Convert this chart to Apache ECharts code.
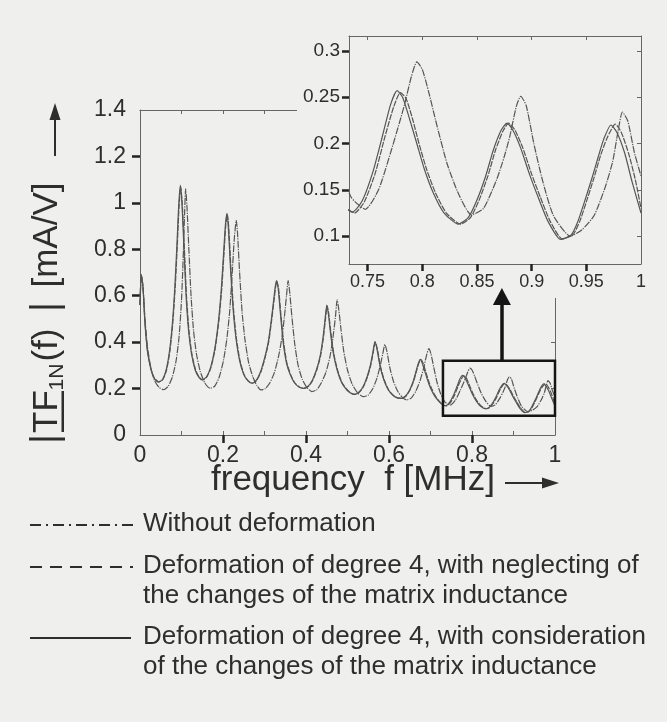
<!DOCTYPE html>
<html>
<head>
<meta charset="utf-8">
<script src="https://cdn.jsdelivr.net/npm/echarts@6/dist/echarts.min.js"></script>
<style>
html, body { margin: 0; padding: 0; background: #efefed; }
#chart { width: 667px; height: 722px; }
</style>
</head>
<body>
<div id="chart"></div>
<script>
// tick labels
var mainXTicks = [0, 0.2, 0.4, 0.6, 0.8, 1];
var mainYTicks = [0, 0.2, 0.4, 0.6, 0.8, 1, 1.2, 1.4];
var insetXTicks = [0.75, 0.8, 0.85, 0.9, 0.95, 1];
var insetYTicks = [0.1, 0.15, 0.2, 0.25, 0.3];

var legendNames = [
    'Without deformation',
    'Deformation of degree 4, with neglecting of\nthe changes of the matrix inductance',
    'Deformation of degree 4, with consideration\nof the changes of the matrix inductance'
];

// |TF_1N(f)| in mA/V versus f in MHz
var withoutDeformation = [
    [0.000,0.56],[0.003,0.69],[0.007,0.645],[0.012,0.50],[0.018,0.38],[0.026,0.29],[0.035,0.235],[0.046,0.205],
    [0.057,0.195],[0.068,0.21],[0.078,0.25],[0.087,0.32],[0.094,0.42],[0.100,0.58],[0.104,0.76],[0.107,0.93],
    [0.110,1.06],[0.113,0.99],[0.118,0.79],[0.123,0.60],[0.129,0.45],[0.136,0.35],[0.145,0.275],[0.156,0.225],
    [0.169,0.201],[0.180,0.21],[0.191,0.25],[0.201,0.32],[0.209,0.41],[0.216,0.53],[0.222,0.69],[0.227,0.84],
    [0.232,0.925],[0.235,0.87],[0.240,0.70],[0.246,0.53],[0.253,0.41],[0.262,0.31],[0.272,0.25],[0.281,0.215],
    [0.291,0.194],[0.302,0.20],[0.313,0.225],[0.324,0.27],[0.334,0.34],[0.342,0.42],[0.348,0.51],[0.353,0.60],
    [0.357,0.665],[0.361,0.61],[0.366,0.51],[0.373,0.39],[0.381,0.30],[0.391,0.24],[0.402,0.205],[0.414,0.187],
    [0.426,0.195],[0.437,0.225],[0.448,0.27],[0.458,0.34],[0.465,0.42],[0.471,0.51],[0.475,0.582],[0.479,0.54],
    [0.484,0.46],[0.491,0.36],[0.500,0.28],[0.511,0.22],[0.524,0.182],[0.538,0.165],[0.550,0.172],[0.561,0.20],
    [0.571,0.245],[0.579,0.30],[0.585,0.35],[0.590,0.39],[0.595,0.36],[0.602,0.29],[0.611,0.23],[0.622,0.185],
    [0.633,0.16],[0.643,0.151],[0.654,0.16],[0.665,0.19],[0.675,0.235],[0.683,0.285],[0.690,0.34],[0.696,0.372],
    [0.701,0.35],[0.708,0.29],[0.716,0.225],[0.725,0.175],[0.735,0.142],[0.748,0.129],[0.760,0.150],[0.771,0.190],
    [0.779,0.222],[0.784,0.243],[0.790,0.272],[0.795,0.288],[0.800,0.280],[0.806,0.255],[0.812,0.226],[0.8225,0.179],
    [0.833,0.146],[0.845,0.123],[0.856,0.130],[0.868,0.161],[0.875,0.186],[0.880,0.2075],[0.886,0.240],[0.890,0.251],
    [0.895,0.241],[0.902,0.200],[0.910,0.160],[0.920,0.122],[0.9355,0.100],[0.946,0.107],[0.957,0.122],[0.967,0.152],
    [0.974,0.180],[0.979,0.213],[0.983,0.234],[0.988,0.224],[0.994,0.190],[1.000,0.165]
];

var neglectingInductance = [
    [0.000,0.56],[0.003,0.69],[0.007,0.645],[0.012,0.485],[0.018,0.365],[0.026,0.288],[0.034,0.247],[0.045,0.229],
    [0.055,0.239],[0.064,0.28],[0.072,0.36],[0.079,0.48],[0.085,0.64],[0.090,0.82],[0.094,0.98],[0.098,1.07],
    [0.102,0.99],[0.107,0.80],[0.112,0.60],[0.118,0.45],[0.125,0.35],[0.134,0.28],[0.143,0.248],[0.151,0.237],
    [0.161,0.25],[0.171,0.29],[0.181,0.37],[0.190,0.49],[0.197,0.63],[0.203,0.80],[0.207,0.91],[0.2105,0.95],
    [0.214,0.89],[0.219,0.72],[0.225,0.55],[0.232,0.42],[0.241,0.32],[0.251,0.26],[0.261,0.233],[0.271,0.223],
    [0.281,0.235],[0.291,0.27],[0.301,0.33],[0.310,0.40],[0.317,0.49],[0.323,0.58],[0.327,0.64],[0.330,0.662],
    [0.334,0.63],[0.339,0.53],[0.346,0.40],[0.354,0.31],[0.363,0.26],[0.373,0.225],[0.384,0.207],[0.395,0.201],
    [0.406,0.21],[0.416,0.235],[0.426,0.28],[0.435,0.34],[0.442,0.42],[0.447,0.50],[0.451,0.556],[0.455,0.52],
    [0.460,0.44],[0.467,0.35],[0.476,0.28],[0.487,0.225],[0.499,0.195],[0.509,0.18],[0.519,0.175],[0.529,0.185],
    [0.539,0.21],[0.548,0.25],[0.556,0.30],[0.562,0.355],[0.567,0.400],[0.572,0.37],[0.579,0.30],[0.588,0.24],
    [0.599,0.195],[0.611,0.17],[0.621,0.16],[0.631,0.158],[0.641,0.168],[0.651,0.195],[0.660,0.235],[0.667,0.28],
    [0.672,0.31],[0.677,0.325],[0.682,0.31],[0.689,0.27],[0.698,0.22],[0.708,0.18],[0.718,0.152],[0.728,0.133],
    [0.738,0.125],[0.747,0.137],[0.757,0.168],[0.766,0.208],[0.774,0.240],[0.780,0.255],[0.785,0.249],[0.791,0.227],
    [0.797,0.200],[0.804,0.172],[0.812,0.147],[0.822,0.125],[0.835,0.113],[0.844,0.120],[0.852,0.139],[0.860,0.165],
    [0.867,0.193],[0.874,0.214],[0.879,0.222],[0.885,0.214],[0.892,0.195],[0.900,0.167],[0.908,0.142],[0.917,0.116],
    [0.928,0.097],[0.938,0.102],[0.944,0.116],[0.950,0.137],[0.957,0.163],[0.963,0.187],[0.969,0.206],[0.9765,0.221],
    [0.982,0.212],[0.989,0.188],[0.995,0.160],[1.000,0.130]
];

var consideringInductance = [
    [0.000,0.56],[0.003,0.69],[0.007,0.64],[0.012,0.48],[0.018,0.36],[0.026,0.285],[0.034,0.245],[0.044,0.228],
    [0.054,0.238],[0.063,0.28],[0.071,0.36],[0.078,0.48],[0.084,0.64],[0.089,0.82],[0.093,0.98],[0.097,1.075],
    [0.101,1.00],[0.106,0.80],[0.111,0.60],[0.117,0.45],[0.124,0.35],[0.133,0.28],[0.142,0.248],[0.150,0.237],
    [0.160,0.25],[0.170,0.29],[0.180,0.37],[0.189,0.49],[0.196,0.63],[0.202,0.80],[0.206,0.91],[0.2095,0.955],
    [0.213,0.89],[0.218,0.72],[0.224,0.55],[0.231,0.42],[0.240,0.32],[0.250,0.26],[0.260,0.233],[0.270,0.223],
    [0.280,0.235],[0.290,0.27],[0.300,0.33],[0.309,0.40],[0.316,0.49],[0.322,0.58],[0.326,0.64],[0.329,0.665],
    [0.333,0.63],[0.338,0.53],[0.345,0.40],[0.353,0.31],[0.362,0.26],[0.372,0.225],[0.383,0.207],[0.394,0.201],
    [0.405,0.21],[0.415,0.235],[0.425,0.28],[0.434,0.34],[0.441,0.42],[0.446,0.50],[0.450,0.56],[0.454,0.52],
    [0.459,0.44],[0.466,0.35],[0.475,0.28],[0.486,0.225],[0.498,0.195],[0.508,0.18],[0.518,0.175],[0.528,0.185],
    [0.538,0.21],[0.547,0.25],[0.555,0.30],[0.561,0.355],[0.566,0.402],[0.571,0.37],[0.578,0.30],[0.587,0.24],
    [0.598,0.195],[0.610,0.17],[0.620,0.16],[0.630,0.158],[0.640,0.168],[0.650,0.195],[0.659,0.235],[0.666,0.28],
    [0.671,0.31],[0.675,0.326],[0.680,0.31],[0.687,0.27],[0.696,0.22],[0.706,0.18],[0.716,0.153],[0.726,0.135],
    [0.736,0.126],[0.745,0.138],[0.755,0.170],[0.764,0.210],[0.771,0.242],[0.777,0.257],[0.782,0.250],[0.788,0.228],
    [0.795,0.200],[0.802,0.172],[0.810,0.147],[0.820,0.125],[0.833,0.113],[0.842,0.120],[0.850,0.139],[0.858,0.165],
    [0.865,0.193],[0.872,0.214],[0.8775,0.222],[0.883,0.214],[0.890,0.195],[0.898,0.167],[0.906,0.142],[0.915,0.116],
    [0.9265,0.0965],[0.936,0.101],[0.942,0.115],[0.948,0.136],[0.955,0.162],[0.961,0.186],[0.966,0.205],[0.9725,0.220],
    [0.978,0.212],[0.985,0.190],[0.992,0.158],[1.000,0.125]
];

var FONT = "'Liberation Sans', Arial, Helvetica, sans-serif";
var INK = '#2e2e2e';
var CURVE = '#555555';
var BG = '#efefed';

var chart = echarts.init(document.getElementById('chart'));

function curveSeries(name, data, dash, xi, yi, z) {
    return {
        name: name,
        type: 'line',
        xAxisIndex: xi,
        yAxisIndex: yi,
        data: data,
        smooth: 0.2,
        showSymbol: false,
        symbol: 'none',
        silent: true,
        z: z,
        lineStyle: { color: CURVE, width: 1.2, type: dash }
    };
}

function plainAxis(extra) {
    var base = {
        type: 'value',
        axisLine: { show: true, onZero: false, lineStyle: { color: '#666', width: 1 } },
        axisTick: { show: false },
        axisLabel: { show: false },
        splitLine: { show: false }
    };
    return Object.assign(base, extra);
}

var labelStyleMain = { color: INK, fontFamily: FONT, fontSize: 23 };
var labelStyleInset = { color: INK, fontFamily: FONT, fontSize: 18 };

var option = {
    backgroundColor: BG,
    animation: false,
    grid: [
        { left: 140, top: 110, width: 415, height: 325 },   // main
        { left: 140, top: 110, width: 415, height: 325 },   // main, inner ticks
        { left: 349, top: 36, width: 292, height: 228, z: 6 } // inset
    ],
    xAxis: [
        plainAxis({ gridIndex: 0, position: 'bottom', min: 0, max: 1, interval: 0.2,
            axisTick: { show: true, customValues: [0.2, 0.4, 0.6, 0.8], length: 8, inside: false,
                lineStyle: { color: '#222', width: 2.5 } },
            axisLabel: Object.assign({ show: true, margin: 9, customValues: mainXTicks }, labelStyleMain) }),
        plainAxis({ gridIndex: 0, position: 'top', min: 0, max: 1, interval: 0.1,
            axisTick: { show: true, inside: true, length: 4, lineStyle: { color: '#666', width: 1 } } }),
        plainAxis({ gridIndex: 1, position: 'bottom', min: 0, max: 1, interval: 0.1,
            axisLine: { show: false },
            axisTick: { show: true, inside: true, length: 4, lineStyle: { color: '#666', width: 1 } } }),
        plainAxis({ gridIndex: 2, position: 'bottom', min: 0.733, max: 1, z: 6,
            axisTick: { show: true, customValues: [0.75, 0.8, 0.85, 0.9, 0.95], length: 7, inside: false,
                lineStyle: { color: '#222', width: 2.5 } },
            axisLabel: Object.assign({ show: true, margin: 9, customValues: insetXTicks }, labelStyleInset) }),
        plainAxis({ gridIndex: 2, position: 'top', min: 0.733, max: 1, z: 6,
            axisTick: { show: true, customValues: [0.75, 0.8, 0.85, 0.9, 0.95], inside: true, length: 4,
                lineStyle: { color: '#666', width: 1 } } })
    ],
    yAxis: [
        plainAxis({ gridIndex: 0, position: 'left', min: 0, max: 1.4, interval: 0.2,
            axisTick: { show: true, customValues: [0.2, 0.4, 0.6, 0.8, 1, 1.2], length: 8, inside: false,
                lineStyle: { color: '#222', width: 2.5 } },
            axisLabel: Object.assign({ show: true, margin: 14, customValues: mainYTicks }, labelStyleMain) }),
        plainAxis({ gridIndex: 0, position: 'right', min: 0, max: 1.4, interval: 0.2,
            axisTick: { show: true, inside: true, length: 4, lineStyle: { color: '#666', width: 1 } } }),
        plainAxis({ gridIndex: 1, show: false, min: 0, max: 1.4 }),
        plainAxis({ gridIndex: 2, position: 'left', min: 0.07, max: 0.316, z: 6,
            axisTick: { show: true, customValues: insetYTicks, length: 7, inside: false,
                lineStyle: { color: '#222', width: 2.5 } },
            axisLabel: Object.assign({ show: true, margin: 9, customValues: insetYTicks }, { color: INK, fontFamily: FONT, fontSize: 19 }) }),
        plainAxis({ gridIndex: 2, position: 'right', min: 0.07, max: 0.316, z: 6,
            axisTick: { show: true, customValues: insetYTicks, inside: true, length: 4,
                lineStyle: { color: '#666', width: 1 } } })
    ],
    series: [
        curveSeries(legendNames[0], withoutDeformation, [7, 1.2, 1.2, 1.2], 0, 0, 2),
        curveSeries(legendNames[1], neglectingInductance, [6, 1.2], 0, 0, 2),
        curveSeries(legendNames[2], consideringInductance, 'solid', 0, 0, 2),
        curveSeries(legendNames[0], withoutDeformation, [7, 1.2, 1.2, 1.2], 3, 3, 7),
        curveSeries(legendNames[1], neglectingInductance, [6, 1.2], 3, 3, 7),
        curveSeries(legendNames[2], consideringInductance, 'solid', 3, 3, 7),
        {
            // zoom frame and the arrow pointing at the inset
            type: 'line',
            xAxisIndex: 0,
            yAxisIndex: 0,
            data: [[0.872, 0.32]],
            symbol: 'none',
            silent: true,
            z: 10,
            lineStyle: { opacity: 0 },
            markArea: {
                silent: true,
                z: 10,
                itemStyle: { color: 'rgba(0,0,0,0)', borderColor: '#151515', borderWidth: 2.5 },
                label: { show: false },
                data: [[{ xAxis: 0.73, yAxis: 0.32 }, { xAxis: 1, yAxis: 0.083 }]]
            },
            markLine: {
                silent: true,
                z: 10,
                symbol: ['none', 'triangle'],
                symbolSize: [18, 17],
                label: { show: false },
                lineStyle: { color: '#151515', width: 3.5, type: 'solid' },
                data: [[{ coord: [0.872, 0.32] }, { coord: [0.872, 0.597] }]]
            }
        }
    ],
    graphic: [
        // inset background hides the main frame behind it
        { type: 'rect', z: 5, silent: true, shape: { x: 297, y: 18, width: 370, height: 280 },
          style: { fill: BG } },

        // y axis title, rotated
        {
            type: 'group', x: 47, y: 445, rotation: Math.PI / 2, silent: true, z: 20,
            children: [
                { type: 'text', x: 6, y: 0, style: { text: '|', fill: INK, fontFamily: FONT, fontSize: 38, textAlign: 'center', textVerticalAlign: 'middle' } },
                { type: 'text', x: 33.5, y: 0, style: { text: 'TF', fill: INK, fontFamily: FONT, fontSize: 35, textAlign: 'center', textVerticalAlign: 'middle' } },
                { type: 'rect', shape: { x: 13, y: 14.5, width: 41, height: 2.5 }, style: { fill: INK } },
                { type: 'text', x: 68, y: 10, style: { text: '1N', fill: INK, fontFamily: FONT, fontSize: 21, textAlign: 'center', textVerticalAlign: 'middle' } },
                { type: 'text', x: 100, y: 0, style: { text: '(f)', fill: INK, fontFamily: FONT, fontSize: 35, textAlign: 'center', textVerticalAlign: 'middle' } },
                { type: 'text', x: 138, y: 0, style: { text: '|', fill: INK, fontFamily: FONT, fontSize: 38, textAlign: 'center', textVerticalAlign: 'middle' } },
                { type: 'text', x: 210, y: 0, style: { text: '[mA/V]', fill: INK, fontFamily: FONT, fontSize: 35, textAlign: 'center', textVerticalAlign: 'middle' } }
            ]
        },
        { type: 'line', z: 20, silent: true, shape: { x1: 55, y1: 156, x2: 55, y2: 118 }, style: { stroke: INK, lineWidth: 2 } },
        { type: 'polygon', z: 20, silent: true, shape: { points: [[55, 103], [49.5, 120], [60.5, 120]] }, style: { fill: INK } },

        // x axis title
        { type: 'text', z: 20, silent: true, x: 353, y: 480,
          style: { text: 'frequency  f [MHz]', fill: INK, fontFamily: FONT, fontSize: 35, textAlign: 'center', textVerticalAlign: 'middle' } },
        { type: 'line', z: 20, silent: true, shape: { x1: 505, y1: 483, x2: 545, y2: 483 }, style: { stroke: INK, lineWidth: 2 } },
        { type: 'polygon', z: 20, silent: true, shape: { points: [[559, 483], [542, 477.5], [542, 488.5]] }, style: { fill: INK } },

        // legend
        { type: 'line', silent: true, shape: { x1: 30, y1: 525, x2: 133, y2: 525 }, style: { stroke: INK, lineWidth: 2, lineDash: [11, 5, 2, 5] } },
        { type: 'text', silent: true, x: 143, y: 524,
          style: { text: legendNames[0], fill: INK, fontFamily: FONT, fontSize: 26, textVerticalAlign: 'middle' } },
        { type: 'line', silent: true, shape: { x1: 30, y1: 567, x2: 133, y2: 567 }, style: { stroke: INK, lineWidth: 2, lineDash: [12, 8] } },
        { type: 'text', silent: true, x: 143, y: 551,
          style: { text: legendNames[1], fill: INK, fontFamily: FONT, fontSize: 26, lineHeight: 30, textVerticalAlign: 'top' } },
        { type: 'line', silent: true, shape: { x1: 30, y1: 638, x2: 131, y2: 638 }, style: { stroke: INK, lineWidth: 2 } },
        { type: 'text', silent: true, x: 143, y: 622,
          style: { text: legendNames[2], fill: INK, fontFamily: FONT, fontSize: 26, lineHeight: 30, textVerticalAlign: 'top' } }
    ]
};

chart.setOption(option);
</script>
</body>
</html>
